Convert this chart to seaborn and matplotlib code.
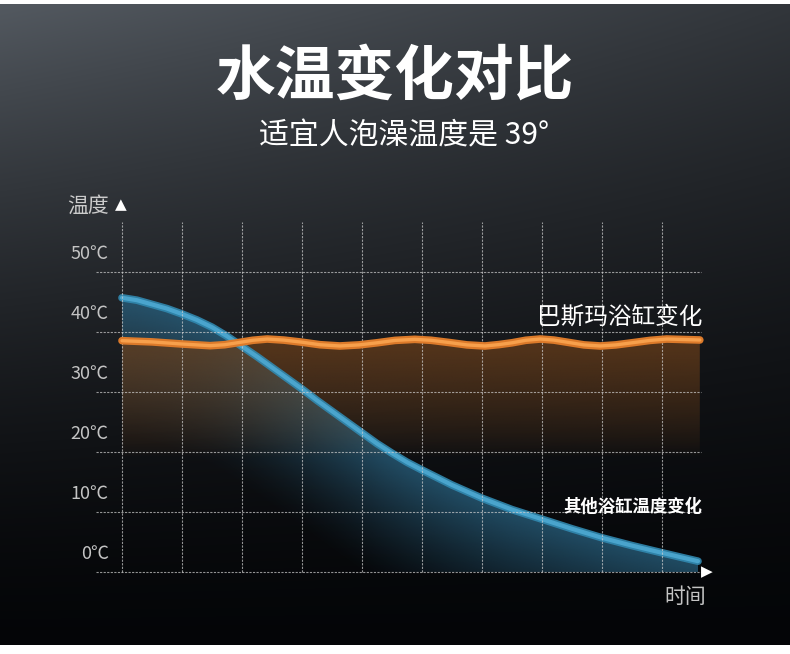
import numpy as np
import pandas as pd
import seaborn as sns
import matplotlib.pyplot as plt

# values
other_time = [0, 0.25, 0.5, 0.75, 1.0, 1.25, 1.5, 1.75, 2.0, 2.25,
              2.5, 2.75, 3.0, 3.25, 3.5, 3.75, 4.0, 4.25, 4.5, 4.75,
              5.0, 5.5, 6.0, 6.5, 7.0, 7.5, 8.0, 8.5, 9.0, 9.6]
other_temp = [45.7, 45.3, 44.6, 43.9, 43.0, 42.0, 40.8, 39.3, 37.6, 35.9,
              34.1, 32.3, 30.5, 28.6, 26.8, 25.0, 23.2, 21.4, 19.8, 18.3,
              17.0, 14.5, 12.3, 10.4, 8.8, 7.2, 5.7, 4.4, 3.2, 1.8]
basma_time = [0, 0.5, 1.0, 1.47, 1.71, 1.95, 2.18, 2.42, 2.7, 3.0,
              3.3, 3.63, 3.95, 4.25, 4.55, 4.88, 5.15, 5.45, 5.75, 6.05,
              6.28, 6.5, 6.73, 6.97, 7.2, 7.45, 7.7, 7.97, 8.23, 8.5,
              8.8, 9.08, 9.35, 9.63]
basma_temp = [38.55, 38.35, 38.0, 37.72, 37.88, 38.25, 38.62, 38.83, 38.65, 38.3,
              37.88, 37.67, 37.85, 38.2, 38.6, 38.78, 38.62, 38.25, 37.85, 37.67,
              37.9, 38.2, 38.62, 38.83, 38.65, 38.25, 37.85, 37.67, 37.85, 38.2,
              38.6, 38.83, 38.75, 38.67]
y_ticks = [0, 10, 20, 30, 40, 50]
y_labels = ["0℃", "10℃", "20℃", "30℃", "40℃", "50℃"]
x_grid = [0, 1, 2, 3, 4, 5, 6, 7, 8, 9]

title = "水温变化对比"
subtitle = "适宜人泡澡温度是 39°"
basma_name = "巴斯玛浴缸变化"
other_name = "其他浴缸温度变化"

other = pd.DataFrame({"time": other_time, "temp": other_temp})
basma = pd.DataFrame({"time": basma_time, "temp": basma_temp})

sns.set_theme(style="dark")
plt.rcParams['font.family'] = ['Noto Sans CJK SC', 'DejaVu Sans']

W, H = 790, 654
fig = plt.figure(figsize=(7.9, 6.54), dpi=100)

# background gradient
bg_ax = fig.add_axes([0, 0, 1, 1], zorder=-10)
u = np.linspace(0, 1, W)[None, :]
t = np.linspace(0, 1, H)[:, None]
b = 80 * (1 - t) ** 1.6 * (1 - 0.42 * u) + 4
bg = np.dstack([b, b * 1.06 + 1, b * 1.12 + 3]) / 255
bg = np.clip(bg, 0, 1)
bg[:4] = 1
bg[-9:] = 1
bg_ax.imshow(bg, aspect="auto", extent=[0, 1, 0, 1], origin="upper")
bg_ax.axis("off")

# main axes: x=0 at px 122, 60 px per unit; 0℃ at px 572, 6 px per degree
x0, x1 = -26 / 60, 590 / 60
y0, y1 = -8 / 6, 350 / 6
ax = fig.add_axes([96 / W, (H - 580) / H, 616 / W, 358 / H])
ax.set_xlim(x0, x1)
ax.set_ylim(y0, y1)
ax.patch.set_alpha(0)
ax.axis("off")

# blue fill, shaded by depth below the curve
fb = ax.fill_between(other["time"], other["temp"], 0, color="none", lw=0)
gx = np.linspace(x0, x1, 400)
gy = np.linspace(y0, y1, 300)
curve = np.interp(gx, other["time"], other["temp"])
depth = curve[None, :] - gy[:, None]
alpha = np.clip(1 - depth / 24, 0, 1) ** 1.4 * 0.8
img = np.zeros((len(gy), len(gx), 4))
img[..., 0], img[..., 1], img[..., 2] = 40 / 255, 95 / 255, 125 / 255
img[..., 3] = alpha
im = ax.imshow(img, extent=[x0, x1, y0, y1], origin="lower", aspect="auto", zorder=1)
im.set_clip_path(fb.get_paths()[0], transform=ax.transData)

# orange fill fading out towards 20℃
fo = ax.fill_between(basma["time"], basma["temp"], 0, color="none", lw=0)
oal = np.clip((gy - 19) / 19, 0, 1) ** 0.8 * 0.75
img2 = np.zeros((len(gy), len(gx), 4))
img2[..., 0], img2[..., 1], img2[..., 2] = 105 / 255, 62 / 255, 26 / 255
img2[..., 3] = oal[:, None]
im2 = ax.imshow(img2, extent=[x0, x1, y0, y1], origin="lower", aspect="auto", zorder=2)
im2.set_clip_path(fo.get_paths()[0], transform=ax.transData)

sns.lineplot(data=other, x="time", y="temp", ax=ax, color="#3189b0", lw=5.5,
             zorder=2.6, legend=False, alpha=0.9)
sns.lineplot(data=other, x="time", y="temp", ax=ax, color="#4ea9d2", lw=3,
             zorder=2.7, legend=False, alpha=0.9)

# dashed grid
ax.hlines(y_ticks, x0, other_time[-1] + 0.05, colors="#d0d0d0", lw=0.8,
          linestyles=(0, (2.0, 1.2)), alpha=0.7, zorder=3)
ax.vlines(x_grid, 0, y1, colors="#d0d0d0", lw=0.8,
          linestyles=(0, (2.0, 1.2)), alpha=0.7, zorder=3)

sns.lineplot(data=basma, x="time", y="temp", ax=ax, color="#dc7a2a", lw=5.5,
             zorder=4, legend=False)
sns.lineplot(data=basma, x="time", y="temp", ax=ax, color="#f7a04c", lw=2.4,
             zorder=4.1, legend=False)
ax.set_xlim(x0, x1)
ax.set_ylim(y0, y1)

for v, lab in zip(y_ticks, y_labels):
    ax.text(-0.22, v + 3, lab, ha="right", va="center", fontsize=13,
            color="#c4c4c4")

ax.text(-0.92, 61.0, "温度", ha="left", va="center", fontsize=15, color="#cccccc")
ax.text(-0.12, 61.3, "▲", ha="left", va="center", fontsize=11, color="white",
        family=["DejaVu Sans"])
ax.text(other_time[-1] + 0.15, 0, "▶", ha="center", va="center", fontsize=11,
        color="white", family=["DejaVu Sans"])
ax.text(9.38, -4.1, "时间", ha="center", va="center", fontsize=15, color="#c4c4c4")

ax.text(9.67, 42.4, basma_name, ha="right", va="center", fontsize=17, color="white")
ax.text(9.67, 10.8, other_name, ha="right", va="center", fontsize=12.5,
        color="white", fontweight="bold")

fig.text(395 / W, 1 - 78 / H, title, ha="center", va="center", fontsize=43,
         color="white", fontweight="bold")
fig.text(404 / W, 1 - 136 / H, subtitle, ha="center", va="center", fontsize=21.5,
         color="white")

fig.savefig("out.png", dpi=100)
